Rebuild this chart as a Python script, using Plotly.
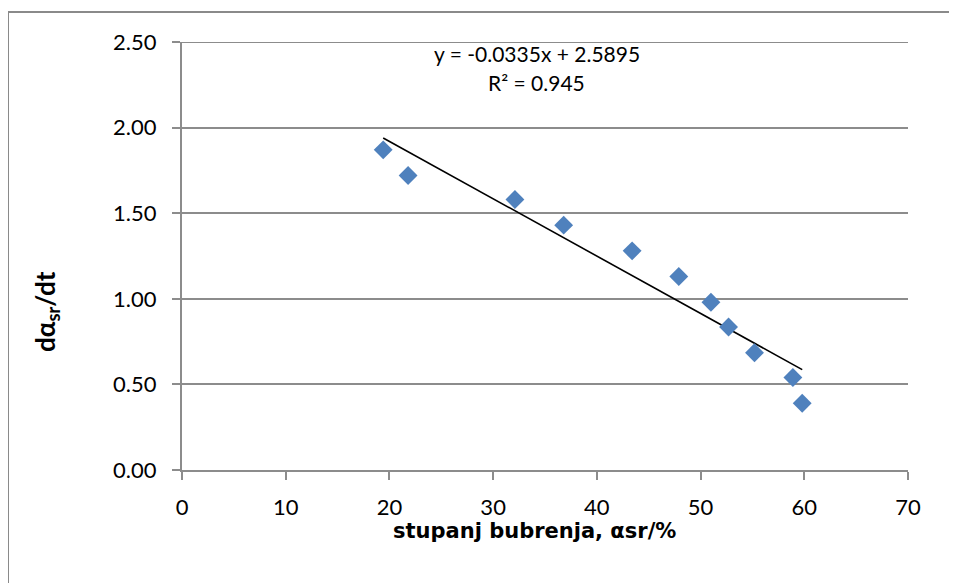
import plotly.graph_objects as go

# Data
swelling_degree = [19.4, 21.8, 32.1, 36.8, 43.4, 47.9, 51.0, 52.7, 55.2, 58.9, 59.8]
rate = [1.87, 1.72, 1.58, 1.43, 1.28, 1.13, 0.98, 0.835, 0.685, 0.54, 0.39]

# Linear trendline coefficients (as shown on the chart)
slope = -0.0335
intercept = 2.5895
r_squared = 0.945

x_ticks = [0, 10, 20, 30, 40, 50, 60, 70]
y_ticks = [0.0, 0.5, 1.0, 1.5, 2.0, 2.5]

FONT = "Lato"
GRID = "#8c8c8c"

trend_x = [min(swelling_degree), max(swelling_degree)]
trend_y = [slope * v + intercept for v in trend_x]

fig = go.Figure()
fig.add_trace(go.Scatter(
    x=trend_x, y=trend_y, mode="lines",
    line=dict(color="black", width=1.6),
    showlegend=False, hoverinfo="skip",
))
fig.add_trace(go.Scatter(
    x=swelling_degree, y=rate, mode="markers",
    marker=dict(symbol="diamond", size=14.5, color="#4f81bd", line=dict(width=0)),
    showlegend=False,
))

# page body has an 8px margin; plot area in figure coords: 174..900 x 34..462
L, R, T, B = 174, 57, 34, 121
PW, PH = 957 - L - R, 583 - T - B

def px(xf):
    return (xf - L) / PW

def py(yf):
    return (583 - B - yf) / PH

fig.update_layout(
    width=957, height=583,
    margin=dict(l=L, r=R, t=T, b=B, autoexpand=False),
    paper_bgcolor="white", plot_bgcolor="white",
    font=dict(family=FONT, size=22, color="black"),
    xaxis=dict(
        range=[0, 70], tickvals=x_ticks, ticktext=[str(v) for v in x_ticks],
        showgrid=False, zeroline=False,
        showline=True, linecolor=GRID, linewidth=2,
        ticks="outside", ticklen=8, tickcolor=GRID, tickwidth=2,
        ticklabelstandoff=9,
        tickfont=dict(family=FONT, size=22, color="black"),
    ),
    yaxis=dict(
        range=[0, 2.5], tickvals=y_ticks, ticktext=[f"{v:.2f}" for v in y_ticks],
        showgrid=True, gridcolor=GRID, gridwidth=2, zeroline=False,
        showline=True, linecolor=GRID, linewidth=2,
        ticks="outside", ticklen=8, tickcolor=GRID, tickwidth=2,
        ticklabelstandoff=11,
        tickfont=dict(family=FONT, size=22, color="black"),
    ),
    annotations=[
        dict(x=34.2, y=2.43, xref="x", yref="y", showarrow=False,
             text=f"y = {slope}x + {intercept}",
             font=dict(family=FONT, size=21, color="black")),
        dict(x=34.2, y=2.265, xref="x", yref="y", showarrow=False,
             text=f"R² = {r_squared}",
             font=dict(family=FONT, size=21, color="black")),
        dict(x=px(38), y=py(304), xref="paper", yref="paper", showarrow=False,
             text="dα<sub>sr</sub>/dt", textangle=-90,
             xanchor="center", yanchor="middle",
             font=dict(family=FONT, size=26, color="black", weight="bold")),
        dict(x=px(526), y=py(523), xref="paper", yref="paper", showarrow=False,
             text="stupanj bubrenja, αsr/%",
             xanchor="center", yanchor="middle",
             font=dict(family="DejaVu Sans", size=21, color="black", weight="bold")),
    ],
    shapes=[
        dict(type="rect", xref="paper", yref="paper",
             x0=px(0), x1=px(965), y0=py(590), y1=py(4),
             line=dict(color="#8a8a8a", width=2), fillcolor="rgba(0,0,0,0)",
             layer="below"),
        dict(type="line", xref="x", yref="y", x0=0, x1=70, y0=2.5, y1=2.5,
             line=dict(color=GRID, width=2), layer="below"),
    ],
)

fig.write_html("out.html")
